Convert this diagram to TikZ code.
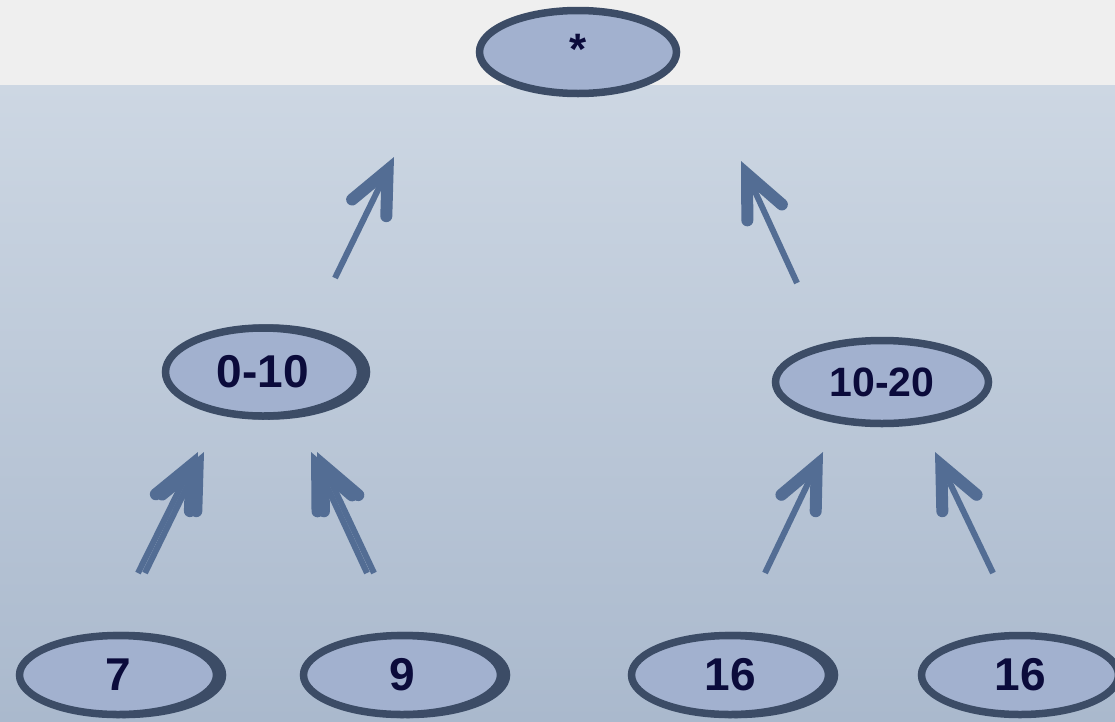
\documentclass[tikz,border=0pt]{standalone}
\usepackage{fontspec}
\setmainfont{Liberation Sans}
\usetikzlibrary{shapes.geometric,arrows.meta}
\definecolor{bandgray}{HTML}{EFEFEF}
\definecolor{bgtop}{HTML}{CDD7E3}
\definecolor{bgbot}{HTML}{AAB9CD}
\definecolor{nodefill}{HTML}{A2B1CF}
\definecolor{nodeedge}{HTML}{3C4C66}
\definecolor{arrowcol}{HTML}{536D94}
\definecolor{textcol}{HTML}{0B0B3B}
\tikzset{
  oval/.style={ellipse, fill=nodefill, draw=nodeedge, line width=7.5pt, inner sep=0pt,
    text=textcol, font=\bfseries\fontsize{46}{50}\selectfont},
  dbl/.style={preaction={draw=nodeedge, line width=7.5pt, transform canvas={xshift=6pt}}},
  upar/.style={draw=arrowcol, line width=6pt,
    -{Straight Barb[length=42pt, width=38pt, line width=12pt, line join=miter, line cap=round]}}
}
\begin{document}
\begin{tikzpicture}[x=1pt, y=-1pt]
\useasboundingbox (0,0) rectangle (1115,721);
\fill[bandgray] (0,0) rectangle (1115,85);
\shade[top color=bgtop, bottom color=bgbot] (0,85) rectangle (1115,721);

\node[oval, minimum width=197pt, minimum height=83pt, font=\bfseries\fontsize{44}{48}\selectfont] (root) at (578,52) {\raisebox{5pt}{*}};
\node[oval, dbl, minimum width=195pt, minimum height=88pt] (n010) at (263,372) {0-10};
\node[oval, minimum width=213pt, minimum height=83pt, font=\bfseries\fontsize{41}{45}\selectfont] (n1020) at (882,382) {10-20};
\node[oval, dbl, minimum width=197pt, minimum height=79pt] (l7) at (118,675) {7};
\node[oval, dbl, minimum width=197pt, minimum height=79pt] (l9) at (402,675) {9};
\node[oval, dbl, minimum width=197pt, minimum height=79pt] (l16a) at (730,675) {16};
\node[oval, minimum width=197pt, minimum height=79pt] (l16b) at (1020,675) {16};

\coordinate (a1s) at (335,278); \coordinate (a1e) at (394,157);
\coordinate (a2s) at (797,283); \coordinate (a2e) at (741,161);
\coordinate (a3s) at (138,573); \coordinate (a3e) at (198,452);
\coordinate (a3bs) at (145,573); \coordinate (a3be) at (204,452);
\coordinate (a4s) at (367,573); \coordinate (a4e) at (311,452);
\coordinate (a4bs) at (374,573); \coordinate (a4be) at (317,452);
\coordinate (a5s) at (765,573); \coordinate (a5e) at (823,452);
\coordinate (a6s) at (993,573); \coordinate (a6e) at (935,452);

\draw[upar] (a1s) -- (a1e);
\draw[upar] (a2s) -- (a2e);
\draw[upar] (a3s) -- (a3e);
\draw[upar] (a3bs) -- (a3be);
\draw[upar] (a4s) -- (a4e);
\draw[upar] (a4bs) -- (a4be);
\draw[upar] (a5s) -- (a5e);
\draw[upar] (a6s) -- (a6e);
\end{tikzpicture}
\end{document}
